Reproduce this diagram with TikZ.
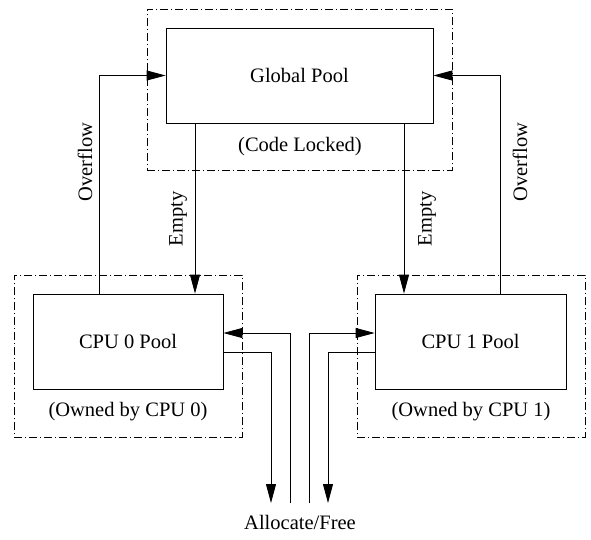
\documentclass[tikz,border=0pt]{standalone}
\usepackage{fontspec}
\setmainfont{Liberation Serif}
\usetikzlibrary{arrows.meta}

\tikzset{
  pool/.style={draw, line width=0.8pt, minimum height=95pt, inner sep=0pt},
  group/.style={draw, line width=0.7pt, dash pattern=on 8pt off 3pt on 1pt off 3pt, inner sep=0pt},
  arr/.style={line width=0.8pt, -{Triangle[length=19pt,width=10pt]}},
  lbl/.style={inner sep=0pt},
}

\begin{document}
\begin{tikzpicture}[x=1pt, y=-1pt, font=\fontsize{20.5pt}{24pt}\selectfont]
  \useasboundingbox (0,0) rectangle (591,539);

  % Dash-dot frames
  \node[group, minimum width=305pt, minimum height=161pt] (gframe) at (299.5,89.5) {};
  \node[group, minimum width=228pt, minimum height=162pt] (frame0) at (128,356) {};
  \node[group, minimum width=228pt, minimum height=162pt] (frame1) at (471,356) {};

  % Pools
  \node[pool, minimum width=267pt] (global) at (299.5,75.5) {Global Pool};
  \node[pool, minimum width=190pt] (cpu0) at (128,341.5) {CPU 0 Pool};
  \node[pool, minimum width=191pt] (cpu1) at (470.5,341.5) {CPU 1 Pool};

  % Captions
  \node[lbl] (gcap) at (300,147) {(Code Locked)};
  \node[lbl] (cap0) at (128,412) {(Owned by CPU 0)};
  \node[lbl] (cap1) at (471,412) {(Owned by CPU 1)};
  \node[lbl] (af) at (300,522) {Allocate/Free};

  % Overflow and Empty paths
  \coordinate (ovl) at (99,0);
  \coordinate (eml) at (195,0);
  \coordinate (emr) at (404,0);
  \coordinate (ovr) at (500,0);
  \draw[arr] (ovl |- cpu0.north) |- (global.west);
  \draw[arr] (eml |- global.south) -- (eml |- cpu0.north);
  \draw[arr] (emr |- global.south) -- (emr |- cpu1.north);
  \draw[arr] (ovr |- cpu1.north) |- (global.east);

  \node[lbl, rotate=90] (ovllbl) at (85,162) {Overflow};
  \node[lbl, rotate=90] (emllbl) at (178,219) {Empty};
  \node[lbl, rotate=90] (emrlbl) at (427,219) {Empty};
  \node[lbl, rotate=90] (ovrlbl) at (520,162) {Overflow};

  % Allocate/Free paths
  \coordinate (out0) at (271,503);
  \coordinate (in0) at (290,503);
  \coordinate (in1) at (309,503);
  \coordinate (out1) at (328,503);
  \draw[arr] (in0) |- ([yshift=8.5pt]cpu0.east);
  \draw[arr] ([yshift=-10.5pt]cpu0.east) -| (out0);
  \draw[arr] (in1) |- ([yshift=8.5pt]cpu1.west);
  \draw[arr] ([yshift=-10.5pt]cpu1.west) -| (out1);
\end{tikzpicture}
\end{document}
